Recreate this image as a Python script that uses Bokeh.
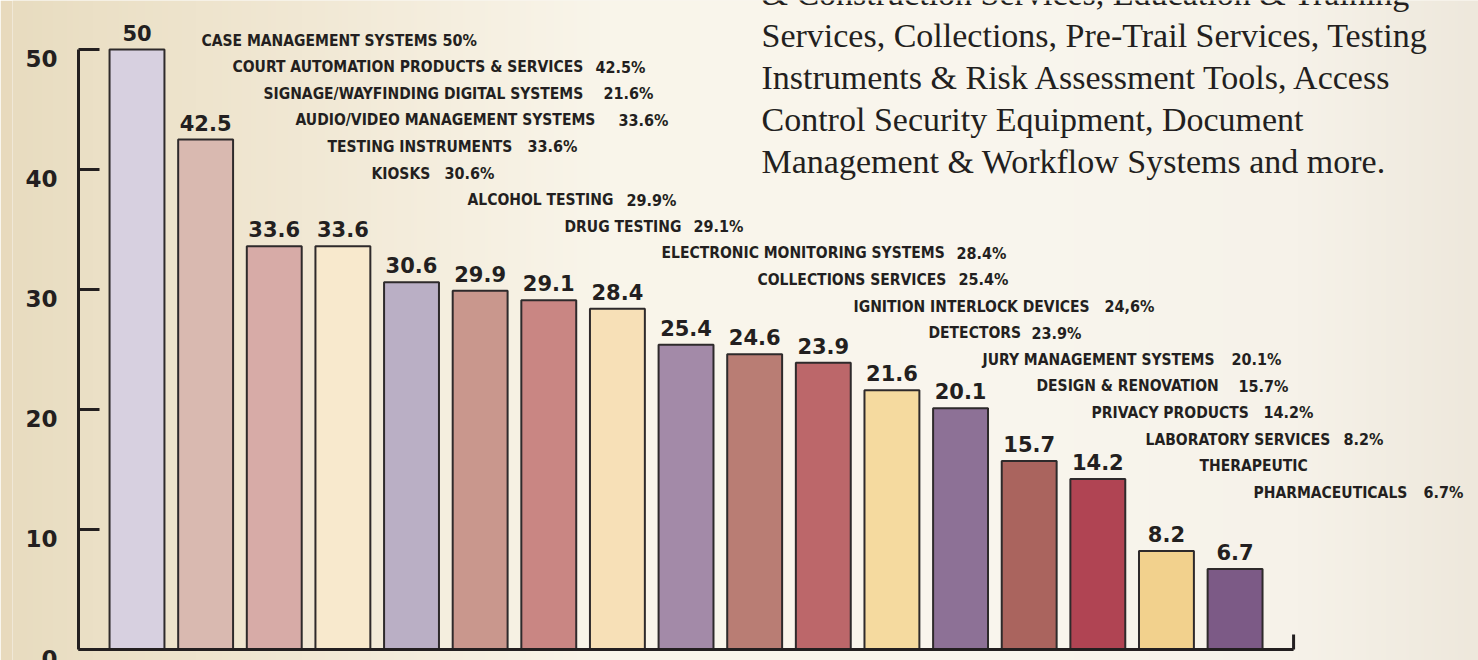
import numpy as np
from bokeh.plotting import figure
from bokeh.models import Range1d, FixedTicker, ColumnDataSource
from bokeh.core.properties import value
from bokeh.embed import file_html
from bokeh.resources import INLINE

# ---------------- data ----------------
bar_values = [50, 42.5, 33.6, 33.6, 30.6, 29.9, 29.1, 28.4, 25.4, 24.6, 23.9,
              21.6, 20.1, 15.7, 14.2, 8.2, 6.7]
bar_colors = ["#d7d0e0", "#d9b9b0", "#d7aba7", "#f8e9cd", "#baafc5", "#c9978d",
              "#c98683", "#f7e0b7", "#a38aa8", "#b97d74", "#bc676a", "#f5da9f",
              "#8d7196", "#aa645e", "#b04453", "#f2d18d", "#7c5a86"]

legend_names = ["CASE MANAGEMENT SYSTEMS", "COURT AUTOMATION PRODUCTS & SERVICES",
                "SIGNAGE/WAYFINDING DIGITAL SYSTEMS", "AUDIO/VIDEO MANAGEMENT SYSTEMS",
                "TESTING INSTRUMENTS", "KIOSKS", "ALCOHOL TESTING", "DRUG TESTING",
                "ELECTRONIC MONITORING SYSTEMS", "COLLECTIONS SERVICES",
                "IGNITION INTERLOCK DEVICES", "DETECTORS", "JURY MANAGEMENT SYSTEMS",
                "DESIGN & RENOVATION", "PRIVACY PRODUCTS", "LABORATORY SERVICES",
                "THERAPEUTIC", "PHARMACEUTICALS"]
legend_pcts = ["50%", "42.5%", "21.6%", "33.6%", "33.6%", "30.6%", "29.9%", "29.1%",
               "28.4%", "25.4%", "24,6%", "23.9%", "20.1%", "15.7%", "14.2%", "8.2%",
               "", "6.7%"]

y_ticks = [0, 10, 20, 30, 40, 50]
y_tick_labels = ["0", "10", "20", "30", "40", "50"]

blurb_lines = ["& Construction Services, Education & Training",
               "Services, Collections, Pre-Trail Services, Testing",
               "Instruments & Risk Assessment Tools, Access",
               "Control Security Equipment, Document",
               "Management & Workflow Systems and more."]

# ---------------- layout (page pixels) ----------------
FIG_W, FIG_H = 1478, 660
LEFT_BORDER = 12
AXIS_PX = 78          # vertical axis line
X_CENTER0 = 136.5     # centre of first bar
PITCH = 68.63         # px per category
ZERO_Y = 649          # px of value 0
PX_PER_UNIT = 12.0
VALUE_GAP_PX = 17     # anchor of value labels above the bar top

legend_name_px = [201, 232, 263, 295, 327, 371, 467, 564, 661, 757, 853, 928, 982,
                  1036, 1091, 1145, 1199, 1253]
legend_pct_px = [442, 595, 603, 618, 527, 444, 626, 693, 956, 958, 1104, 1031, 1231,
                 1238, 1263, 1343, 1300, 1423]
LEGEND_BASE0 = 40
LEGEND_STEP = 26.6
BLURB_X = 761
BLURB_BASE0 = -7.5
BLURB_STEP = 42


def dx(px):
    return (px - X_CENTER0) / PITCH


def dy(py):
    return (ZERO_Y - py) / PX_PER_UNIT


x_start = dx(LEFT_BORDER)
x_end = dx(FIG_W)
y_start = dy(FIG_H)
y_end = dy(0)
axis_x = dx(AXIS_PX)
pad = -axis_x

INK = "#231f20"

p = figure(width=FIG_W, height=FIG_H, output_backend="svg", toolbar_location=None,
           x_range=Range1d(x_start, x_end), y_range=Range1d(y_start, y_end),
           min_border_left=LEFT_BORDER, min_border_right=0, min_border_top=0,
           min_border_bottom=0, x_axis_location=None)
p.grid.visible = False
p.outline_line_color = None
p.border_fill_color = "#e8dabd"
p.background_fill_color = "#f4eee0"

# background gradient (decorative)
stops_px = [LEFT_BORDER, 90, 300, 600, 1000, 1300, FIG_W]
stops_rgb = [(232, 220, 192), (235, 224, 198), (241, 232, 212), (249, 245, 234),
             (249, 246, 238), (246, 242, 233), (238, 232, 220)]
N = 512
xs_px = np.linspace(stops_px[0], stops_px[-1], N)
img = np.empty((2, N), dtype=np.uint32)
view = img.view(dtype=np.uint8).reshape((2, N, 4))
for c in range(3):
    view[:, :, c] = np.interp(xs_px, stops_px, [s[c] for s in stops_rgb]).astype(np.uint8)
view[:, :, 3] = 255
p.image_rgba(image=[img], x=x_start, y=y_start, dw=x_end - x_start, dh=y_end - y_start)

# y axis (Bokeh axis fixed at the axis position, labels drawn below each tick)
ax = p.yaxis[0]
ax.fixed_location = axis_x
ax.ticker = FixedTicker(ticks=y_ticks)
ax.bounds = (0, 50)
ax.axis_line_width = 3
ax.axis_line_color = INK
ax.major_tick_in = 21
ax.major_tick_out = 0
ax.major_tick_line_width = 3
ax.major_tick_line_color = INK
ax.minor_tick_line_color = None
ax.major_label_standoff = 0
ax.major_label_text_alpha = 0
ax.major_label_text_font_size = "0px"

p.text(x=[axis_x] * len(y_ticks), y=y_ticks, text=y_tick_labels, x_offset=-21,
       text_align="right", text_baseline="top", text_font=value("DejaVu Sans"),
       text_font_style="bold", text_font_size="23px", text_color=INK)

# bars
idx = list(range(len(bar_values)))
bar_src = ColumnDataSource(dict(
    x=idx, top=bar_values, color=bar_colors,
    lab=[("%g" % v) for v in bar_values],
    ly=[v + VALUE_GAP_PX / PX_PER_UNIT for v in bar_values]))
p.vbar(x="x", top="top", width=0.8, bottom=0, source=bar_src, fill_color="color",
       line_color="#2e2a2b", line_width=2)
p.text(x="x", y="ly", text="lab", source=bar_src, text_align="center",
       text_baseline="alphabetic", text_font=value("DejaVu Sans"),
       text_font_style="bold", text_font_size="21px", text_color=INK)

# bottom axis line with end tick
n = len(bar_values)
p.segment(x0=[-pad, n - 1 + pad], y0=[0, 0], x1=[n - 1 + pad, n - 1 + pad],
          y1=[0, 15 / PX_PER_UNIT], line_width=3, line_color=INK)

# stair-step legend text
ly = [dy(LEGEND_BASE0 + LEGEND_STEP * k) for k in range(len(legend_names))]
p.text(x=[dx(v) for v in legend_name_px], y=ly, text=legend_names,
       text_align="left", text_baseline="alphabetic",
       text_font=value("DejaVu Sans Condensed"), text_font_style="bold",
       text_font_size="15.5px", text_color=INK)
p.text(x=[dx(v) for v in legend_pct_px], y=ly, text=legend_pcts,
       text_align="left", text_baseline="alphabetic",
       text_font=value("DejaVu Sans Condensed"), text_font_style="bold",
       text_font_size="16px", text_color=INK)

# descriptive serif paragraph
p.text(x=[dx(BLURB_X)] * len(blurb_lines),
       y=[dy(BLURB_BASE0 + BLURB_STEP * k) for k in range(len(blurb_lines))],
       text=blurb_lines, text_align="left", text_baseline="alphabetic",
       text_font=value("Liberation Serif"), text_font_size="34px", text_color=INK)

open("out.html", "w").write(file_html(p, INLINE))
